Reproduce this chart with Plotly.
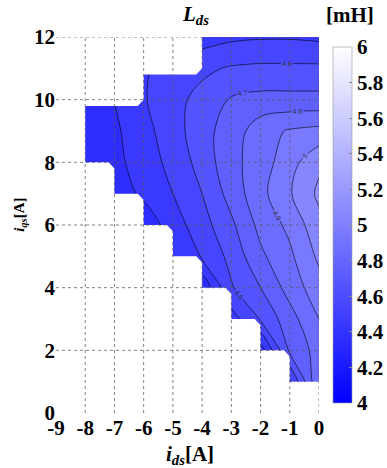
import plotly.graph_objects as go

# ---- data ----
id_values = [-8, -7, -6, -5, -4, -3, -2, -1, 0]          # i_ds [A]
iq_values = [0, 1, 2, 3, 4, 5, 6, 7, 8, 9, 10, 11, 12]   # i_qs [A]
L_ds = [  # rows: iq, cols: id   [mH]
    [4.20, 4.20, 4.20, 4.20, 4.25, 4.25, 4.30, 4.30, 4.80],
    [4.20, 4.20, 4.22, 4.25, 4.28, 4.30, 4.32, 4.48, 4.90],
    [4.22, 4.22, 4.25, 4.28, 4.30, 4.32, 4.35, 4.72, 4.84],
    [4.22, 4.24, 4.27, 4.30, 4.33, 4.45, 4.61, 4.76, 4.90],
    [4.22, 4.25, 4.28, 4.30, 4.32, 4.59, 4.70, 4.84, 4.96],
    [4.22, 4.25, 4.28, 4.40, 4.51, 4.63, 4.78, 4.88, 5.02],
    [4.22, 4.25, 4.33, 4.45, 4.56, 4.68, 4.83, 4.925, 5.07],
    [4.28, 4.34, 4.42, 4.50, 4.60, 4.74, 4.87, 4.99, 5.12],
    [4.30, 4.37, 4.45, 4.53, 4.64, 4.77, 4.85, 4.96, 5.08],
    [4.33, 4.38, 4.47, 4.55, 4.67, 4.74, 4.86, 4.91, 4.93],
    [4.35, 4.40, 4.49, 4.57, 4.63, 4.71, 4.73, 4.73, 4.73],
    [4.35, 4.40, 4.48, 4.55, 4.58, 4.61, 4.62, 4.62, 4.62],
    [4.30, 4.34, 4.38, 4.42, 4.45, 4.48, 4.49, 4.49, 4.48],
]
# operating region limits for each id-interval [id_k, id_k+1]
col_edges = [-8, -7, -6, -5, -4, -3, -2, -1, 0]
iq_lower = [8, 7, 6, 5, 4, 3, 2, 1]
iq_upper = [9.8, 9.8, 10.8, 10.8, 12, 12, 12, 12]
CHAMFER = 0.2   # small cut at the staircase corners

x_ticks = [-9, -8, -7, -6, -5, -4, -3, -2, -1, 0]
x_ticktext = ["-9", "-8", "-7", "-6", "-5", "-4", "-3", "-2", "-1", "0"]
y_ticks = [0, 2, 4, 6, 8, 10, 12]
y_ticktext = ["0", "2", "4", "6", "8", "10", "12"]
cbar_ticks = [4, 4.2, 4.4, 4.6, 4.8, 5, 5.2, 5.4, 5.6, 5.8, 6]
cbar_ticktext = ["4", "4.2", "4.4", "4.6", "4.8", "5", "5.2", "5.4", "5.6", "5.8", "6"]

X_RANGE = [-9, 0]
Y_RANGE = [0, 12]
SERIF = "Liberation Serif"
colorscale = [[0, "rgb(0,0,255)"], [1, "rgb(255,255,255)"]]

def bold(lst):
    return [f"<b>{t}</b>" for t in lst]

tickfont = dict(family=SERIF, size=21, color="black")

fig = go.Figure()
fig.add_trace(go.Contour(
    x=id_values, y=iq_values, z=L_ds,
    autocontour=False,
    contours=dict(start=4.0, end=6.0, size=0.1, coloring="fill",
                  showlabels=True,
                  labelfont=dict(size=7, color="#333", family="Arial")),
    colorscale=colorscale, zmin=4, zmax=6,
    line=dict(color="black", width=0.6),
    showscale=False, hoverinfo="skip",
))
# colorbar (continuous)
fig.add_trace(go.Scatter(
    x=[None], y=[None], mode="markers",
    marker=dict(color=[4], cmin=4, cmax=6, colorscale=colorscale, showscale=True,
                colorbar=dict(x=1.052, xanchor="left", xpad=0, y=0.5, yanchor="middle",
                              len=1, lenmode="fraction", thickness=19,
                              tickvals=cbar_ticks, ticktext=bold(cbar_ticktext),
                              ticks="inside", ticklen=3,
                              tickcolor="#888", outlinewidth=0.6, outlinecolor="#999",
                              tickfont=tickfont)),
    showlegend=False, hoverinfo="skip",
))

# mask outside the operating region (evenodd path)
c = CHAMFER
n = len(iq_upper)
pts = [(col_edges[0], iq_lower[0]), (col_edges[0], iq_upper[0])]
for k in range(n):
    pts.append((col_edges[k], iq_upper[k]))
    if k < n - 1 and iq_upper[k + 1] > iq_upper[k]:
        pts.append((col_edges[k + 1] - c, iq_upper[k]))
        pts.append((col_edges[k + 1], iq_upper[k] + c))
    else:
        pts.append((col_edges[k + 1], iq_upper[k]))
pts.append((col_edges[-1], iq_lower[-1]))
for k in range(n - 1, -1, -1):
    if k < n - 1 and iq_lower[k + 1] < iq_lower[k]:
        pts.append((col_edges[k + 1], iq_lower[k] - c))
        pts.append((col_edges[k + 1] - c, iq_lower[k]))
    else:
        pts.append((col_edges[k + 1], iq_lower[k]))
    pts.append((col_edges[k], iq_lower[k]))
region = "M " + " L ".join(f"{a},{b}" for a, b in pts) + " Z"
outer = (f"M {X_RANGE[0]},{Y_RANGE[0]} L {X_RANGE[1]},{Y_RANGE[0]} "
         f"L {X_RANGE[1]},{Y_RANGE[1]} L {X_RANGE[0]},{Y_RANGE[1]} Z")
shapes = [dict(type="path", path=outer + " " + region, fillrule="evenodd",
               fillcolor="white", line=dict(width=0), xref="x", yref="y", layer="above")]
# dotted grid drawn over everything
for xv in x_ticks[1:]:
    shapes.append(dict(type="line", xref="x", yref="y", x0=xv, x1=xv, y0=Y_RANGE[0], y1=Y_RANGE[1],
                       line=dict(color="rgba(90,90,90,0.75)", width=1, dash="dot"), layer="above"))
for yv in y_ticks[1:]:
    shapes.append(dict(type="line", xref="x", yref="y", y0=yv, y1=yv, x0=X_RANGE[0], x1=X_RANGE[1],
                       line=dict(color="rgba(90,90,90,0.75)", width=1, dash="dot"), layer="above"))

ann_font = dict(family=SERIF, size=21, color="black")
fig.update_layout(
    width=387, height=468,
    margin=dict(l=56, r=68, t=37, b=55, autoexpand=False),
    paper_bgcolor="white", plot_bgcolor="white",
    font=dict(family=SERIF, size=21, color="black"),
    showlegend=False,
    shapes=shapes,
    xaxis=dict(range=X_RANGE, tickvals=x_ticks, ticktext=bold(x_ticktext), showgrid=False,
               zeroline=False, showline=False, ticks="", tickfont=tickfont),
    yaxis=dict(range=Y_RANGE, tickvals=y_ticks, ticktext=bold(y_ticktext), showgrid=False,
               zeroline=False, showline=False, ticks="", tickfont=tickfont),
    annotations=[
        dict(text="<b><i>L</i><sub><i>ds</i></sub></b>", xref="paper", yref="paper",
             x=0.529, y=1.059, xanchor="center", yanchor="middle", showarrow=False, font=ann_font),
        dict(text="<b>[mH]</b>", xref="paper", yref="paper", x=1.118, y=1.059,
             xanchor="center", yanchor="middle", showarrow=False, font=ann_font),
        dict(text="<b><i>i</i><sub><i>ds</i></sub>[A]</b>", xref="paper", yref="paper",
             x=0.51, y=-0.112, xanchor="center", yanchor="middle", showarrow=False, font=ann_font),
        dict(text="<b><i>i</i><sub><i>qs</i></sub>[A]</b>", xref="paper", yref="paper",
             x=-0.137, y=0.527, xanchor="center", yanchor="middle", textangle=-90, showarrow=False,
             font=dict(family=SERIF, size=15, color="black")),
    ],
)
fig.write_html("out.html")
